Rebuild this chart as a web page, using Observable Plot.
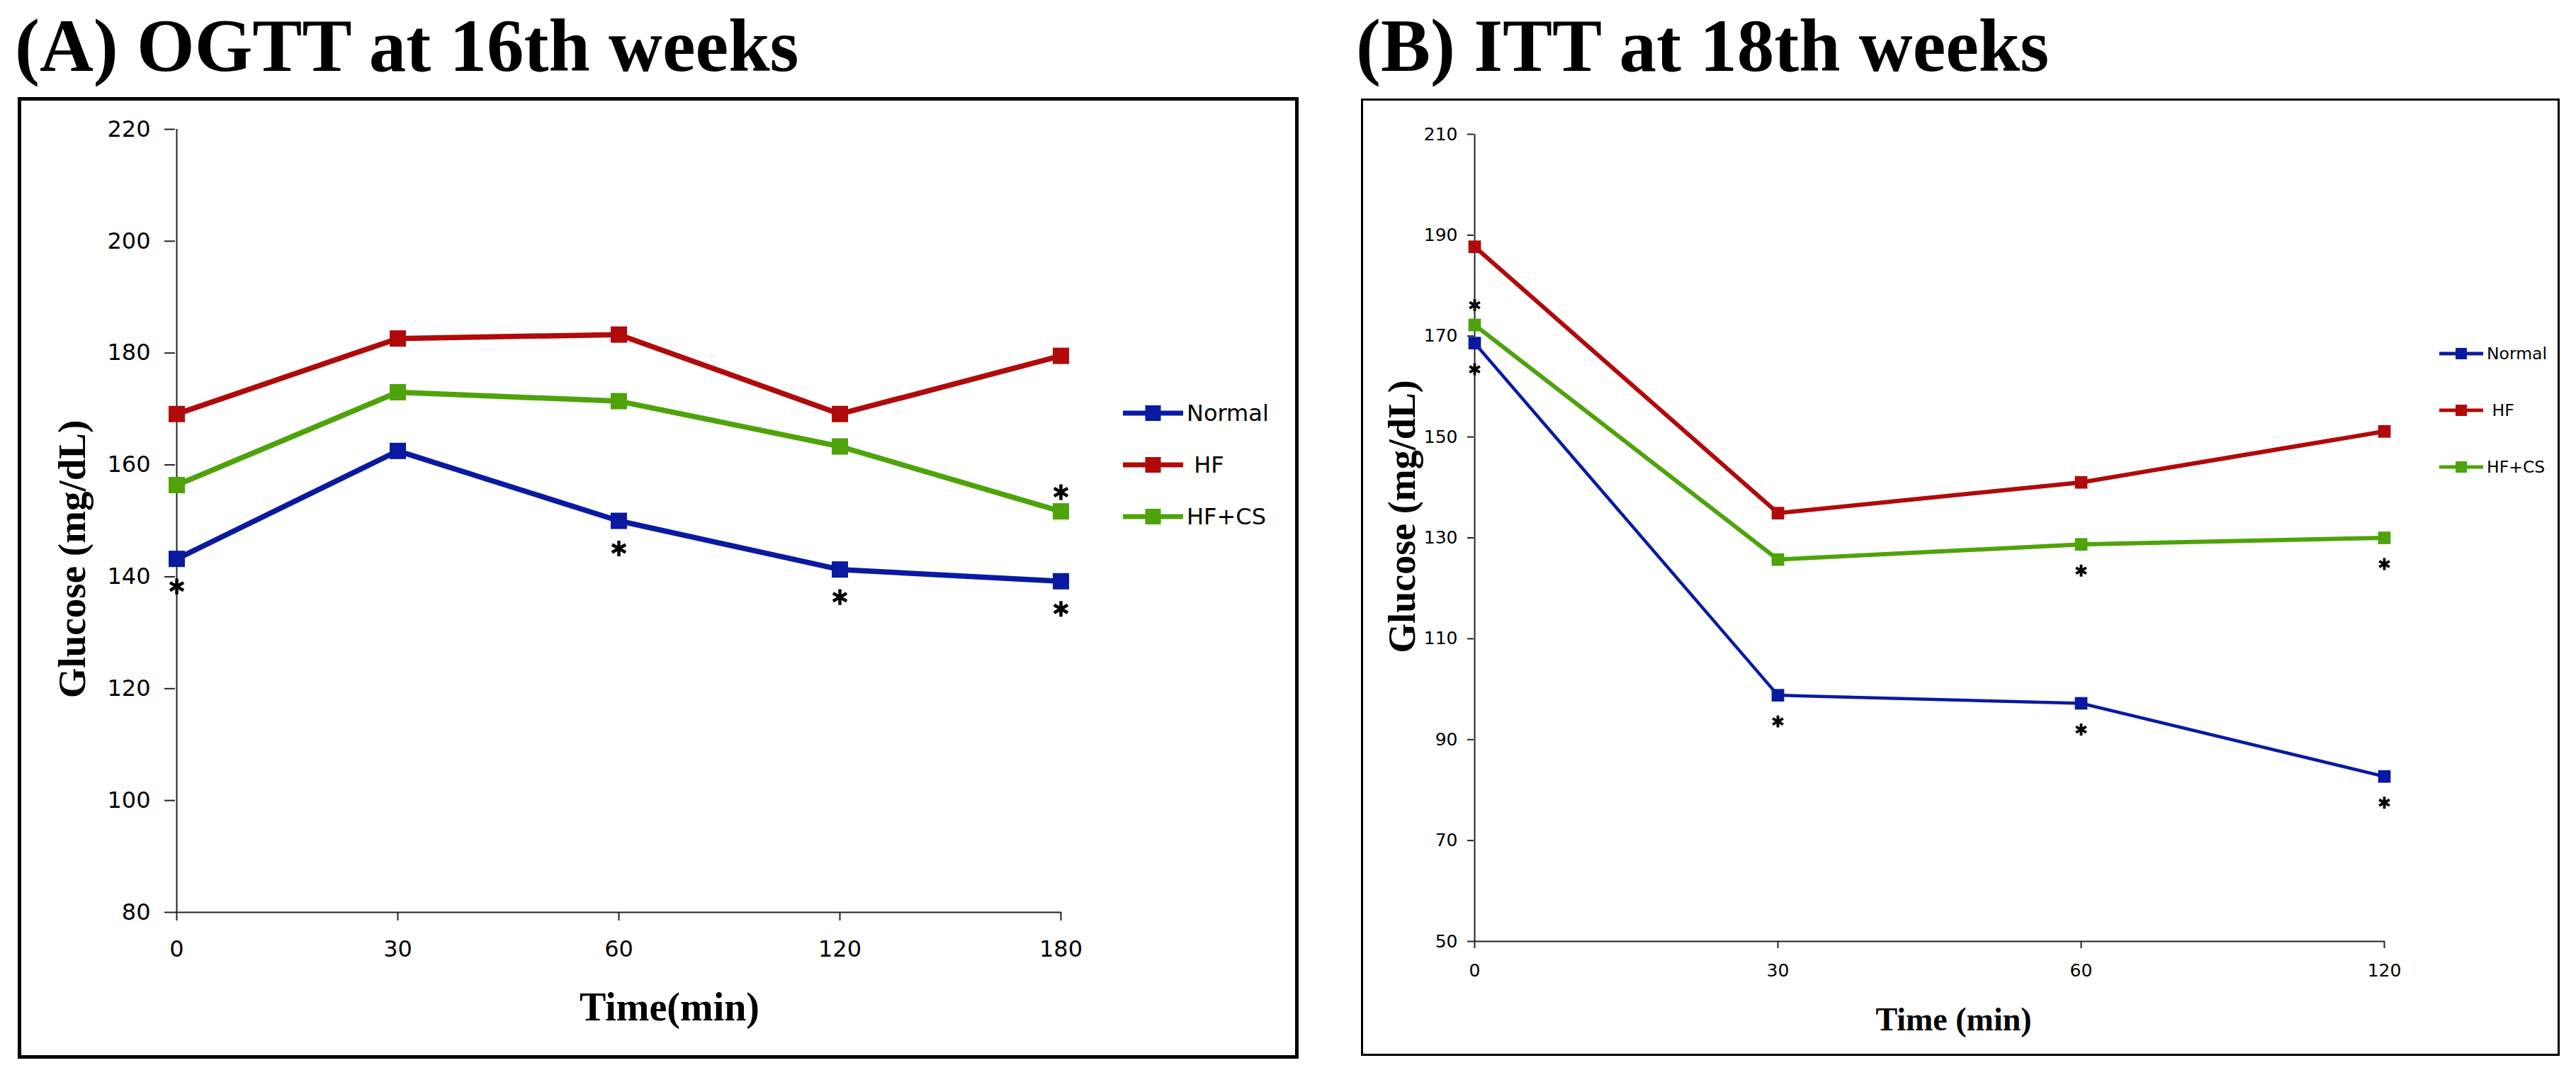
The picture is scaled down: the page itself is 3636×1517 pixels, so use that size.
<!DOCTYPE html>
<html><head><meta charset="utf-8">
<script src="https://cdn.jsdelivr.net/npm/d3@7"></script>
<script src="https://cdn.jsdelivr.net/npm/@observablehq/plot@0.6"></script>
<style>
html,body{margin:0;padding:0;background:#fff}
body{width:3636px;height:1517px;position:relative;overflow:hidden}
.title{position:absolute;font-family:"Liberation Serif";font-weight:bold;font-size:105px;line-height:1;white-space:nowrap;color:#000}
.panel{position:absolute;border-style:solid;border-color:#000;background:#fff}
.panel svg{display:block}
.leg{position:absolute;font-family:"DejaVu Sans";color:#000;white-space:nowrap;line-height:1.2}
</style></head><body>
<div class="title" style="left:21px;top:12px">(A) OGTT at 16th weeks</div>
<div class="title" style="left:1914px;top:12px">(B) ITT at 18th weeks</div>
<div id="panelA" class="panel" style="left:25px;top:137px;border-width:5px;width:1798px;height:1347px"></div>
<div id="panelB" class="panel" style="left:1921px;top:139px;border-width:3px;width:1686px;height:1345px"></div>
<script>
// ---- data ----
const groups = ["Normal", "HF", "HF+CS"];
const legendLabels = ["Normal", "\u00a0HF", "HF+CS"];
const colors = ["#0a1aa0", "#b00a0a", "#4ea30a"];

const timesA = ["0", "30", "60", "120", "180"];
const normalA = [143.2, 162.5, 150.0, 141.3, 139.2];
const hfA = [169.1, 182.6, 183.3, 169.1, 179.5];
const hfcsA = [156.4, 173.0, 171.4, 163.3, 151.7];
const yTicksA = [80, 100, 120, 140, 160, 180, 200, 220];
const sigNormalA = ["0", "60", "120", "180"];      // * below Normal
const sigHfcsAboveA = ["180"];                      // * above HF+CS
const sigHfcsBelowA = [];                           // * below HF+CS

const timesB = ["0", "30", "60", "120"];
const normalB = [168.6, 98.8, 97.2, 82.7];
const hfB = [187.7, 134.9, 141.0, 151.1];
const hfcsB = [172.2, 125.7, 128.7, 130.0];
const yTicksB = [50, 70, 90, 110, 130, 150, 170, 190, 210];
const sigNormalB = ["0", "30", "60", "120"];
const sigHfcsAboveB = ["0"];
const sigHfcsBelowB = ["60", "120"];

const yLabel = "Glucose (mg/dL)";
const xLabelA = "Time(min)";
const xLabelB = "Time (min)";

function rows(times, series) {
  const out = [];
  series.forEach((vals, gi) => times.forEach((t, i) => out.push({group: groups[gi], time: t, value: vals[i]})));
  return out;
}
function pick(data, group, times) {
  return data.filter(d => d.group === group && times.includes(d.time));
}

function panel(cfg) {
  const data = rows(cfg.times, cfg.series);
  return Plot.plot({
    width: cfg.width, height: cfg.height,
    marginLeft: cfg.ml, marginRight: cfg.mr, marginTop: cfg.mt, marginBottom: cfg.mb,
    style: {fontFamily: "DejaVu Sans", color: "#000", background: "#fff", overflow: "visible"},
    x: {type: "point", domain: cfg.times, padding: 0},
    y: {domain: cfg.yDomain},
    color: {domain: groups, range: colors},
    marks: [
      Plot.ruleX([cfg.times[0]], {stroke: "#222", strokeWidth: 2}),
      Plot.ruleY([cfg.yDomain[0]], {stroke: "#222", strokeWidth: 2}),
      Plot.axisY({ticks: cfg.yTicks, tickSize: cfg.ytick, tickPadding: cfg.ypad, fontSize: cfg.fs, label: null, stroke: "#222", strokeWidth: 2, fill: "#000"}),
      Plot.axisX({tickSize: cfg.xtick, tickPadding: cfg.xpad, fontSize: cfg.fs, label: null, stroke: "#222", strokeWidth: 2, fill: "#000"}),
      ...groups.map((g, gi) => Plot.line(data.filter(d => d.group === g), {x: "time", y: "value", stroke: colors[gi], strokeWidth: cfg.lw[gi]})),
      Plot.dot(data, {x: "time", y: "value", fill: "group", symbol: "square", r: cfg.r}),
      Plot.dot(pick(data, "Normal", cfg.sigNormal), {x: "time", y: "value", symbol: "asterisk", r: cfg.ar, stroke: "#000", strokeWidth: cfg.aw, dy: cfg.below}),
      Plot.dot(pick(data, "HF+CS", cfg.sigAbove), {x: "time", y: "value", symbol: "asterisk", r: cfg.ar, stroke: "#000", strokeWidth: cfg.aw, dy: cfg.above}),
      Plot.dot(pick(data, "HF+CS", cfg.sigBelow), {x: "time", y: "value", symbol: "asterisk", r: cfg.ar, stroke: "#000", strokeWidth: cfg.aw, dy: cfg.below}),
      Plot.text([yLabel], {frameAnchor: "left", rotate: -90, dx: cfg.ylx, dy: cfg.yly, fontFamily: "Liberation Serif", fontWeight: "bold", fontSize: cfg.tfs, textAnchor: "middle", lineAnchor: "middle", fill: "#000"}),
      Plot.text([cfg.xLabel], {frameAnchor: "bottom", dx: cfg.xlx, dy: cfg.xly, fontFamily: "Liberation Serif", fontWeight: "bold", fontSize: cfg.xfs, textAnchor: "middle", lineAnchor: "middle", fill: "#000"})
    ]
  });
}

document.getElementById("panelA").append(panel({
  times: timesA, series: [normalA, hfA, hfcsA], yDomain: [80, 220], yTicks: yTicksA,
  width: 1798, height: 1347, ml: 217, mr: 330, mt: 40, mb: 202,
  ytick: 15, ypad: 20, xtick: 12, xpad: 28, fs: 32,
  lw: [7.5, 7.5, 7.5], r: 13, ar: 10.5, aw: 4.5,
  sigNormal: sigNormalA, sigAbove: sigHfcsAboveA, sigBelow: sigHfcsBelowA, below: 39, above: -27,
  ylx: -145, yly: 54, tfs: 55, xLabel: xLabelA, xlx: 72, xly: 135, xfs: 56
}));

document.getElementById("panelB").append(panel({
  times: timesB, series: [normalB, hfB, hfcsB], yDomain: [50, 210], yTicks: yTicksB,
  width: 1686, height: 1345, ml: 156, mr: 244, mt: 47, mb: 159,
  ytick: 9, ypad: 14, xtick: 10, xpad: 22, fs: 25,
  lw: [4.5, 6, 6], r: 10, ar: 8, aw: 3.8,
  sigNormal: sigNormalB, sigAbove: sigHfcsAboveB, sigBelow: sigHfcsBelowB, below: 37, above: -28,
  ylx: -101, yly: -30, tfs: 54, xLabel: xLabelB, xlx: 34, xly: 111, xfs: 46
}));

// ---- legends ----
function legend(cfg) {
  groups.forEach((g, i) => {
    const cy = cfg.ys[i];
    const ns = "http://www.w3.org/2000/svg";
    const svg = document.createElementNS(ns, "svg");
    svg.setAttribute("width", cfg.lineW);
    svg.setAttribute("height", 40);
    svg.style.position = "absolute";
    svg.style.left = cfg.x + "px";
    svg.style.top = (cy - 20) + "px";
    const ln = document.createElementNS(ns, "line");
    ln.setAttribute("x1", 0); ln.setAttribute("x2", cfg.lineW);
    ln.setAttribute("y1", 20); ln.setAttribute("y2", 20);
    ln.setAttribute("stroke", colors[i]); ln.setAttribute("stroke-width", cfg.lw);
    const rc = document.createElementNS(ns, "rect");
    rc.setAttribute("x", cfg.lineW / 2 - cfg.ms / 2); rc.setAttribute("y", 20 - cfg.ms / 2);
    rc.setAttribute("width", cfg.ms); rc.setAttribute("height", cfg.ms);
    rc.setAttribute("fill", colors[i]);
    svg.append(ln, rc);
    document.body.append(svg);
    const t = document.createElement("div");
    t.className = "leg";
    t.textContent = legendLabels[i];
    t.style.fontSize = cfg.fs + "px";
    t.style.left = (cfg.x + cfg.lineW + 5) + "px";
    t.style.top = (cy - 0.6 * cfg.fs) + "px";
    document.body.append(t);
  });
}
legend({x: 1585, lineW: 85, ys: [583, 656, 729], lw: 7, ms: 22, fs: 32});
legend({x: 3443, lineW: 62, ys: [499, 579, 659], lw: 5, ms: 16, fs: 23.5});
</script>
</body></html>
